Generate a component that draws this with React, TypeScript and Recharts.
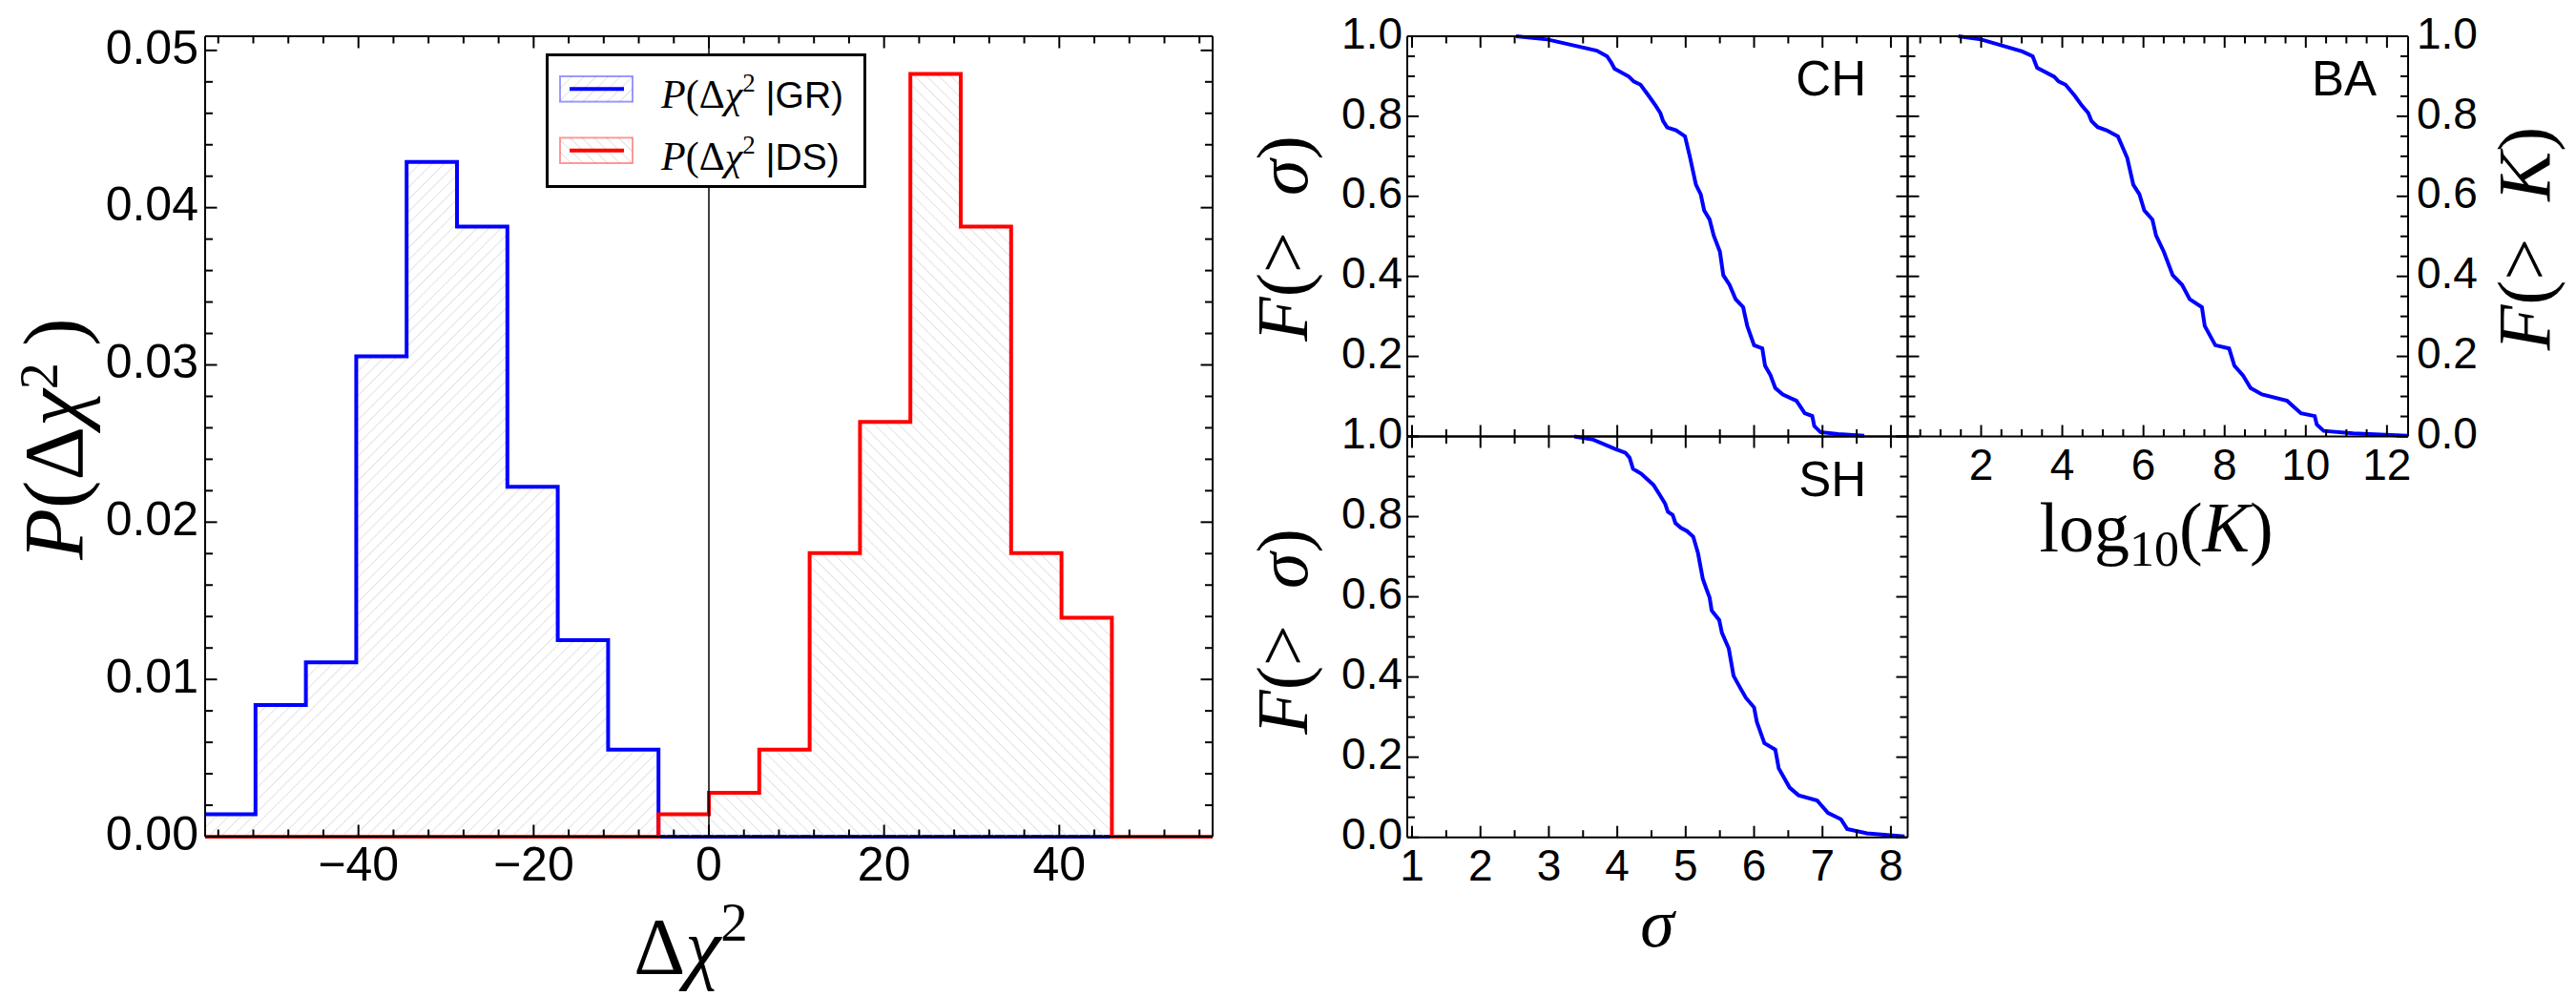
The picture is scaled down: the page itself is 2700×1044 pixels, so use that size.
import React from 'react';
import { ComposedChart, LineChart, Area, Line, XAxis, YAxis, ReferenceLine, Legend } from 'recharts';

const W = 2700;
const H = 1044;
const SANS = '"Liberation Sans", Arial, sans-serif';
const SERIF = '"Liberation Serif", "Times New Roman", serif';
const BLUE = '#0000ff';
const RED = '#ff0000';
const AX = { stroke: '#000', strokeWidth: 2 };

// ---------- Left panel: histograms of delta chi^2 ----------
const binEdges = [-57.5, -51.75, -46, -40.25, -34.5, -28.75, -23, -17.25, -11.5, -5.75, 0, 5.75, 11.5, 17.25, 23, 28.75, 34.5, 40.25, 46, 51.75, 57.5];
const grDensity = [0.00142, 0.00837, 0.01108, 0.03054, 0.0429, 0.0388, 0.02225, 0.0125, 0.00554, 0, 0, 0, 0, 0, 0, 0, 0, 0, 0, 0];
const dsDensity = [0, 0, 0, 0, 0, 0, 0, 0, 0, 0.00142, 0.00279, 0.00554, 0.01804, 0.02638, 0.0485, 0.0388, 0.01804, 0.01392, 0, 0];
const histXTicks = [-56, -52, -48, -44, -40, -36, -32, -28, -24, -20, -16, -12, -8, -4, 0, 4, 8, 12, 16, 20, 24, 28, 32, 36, 40, 44, 48, 52, 56];
const histXMajor = [-40, -20, 0, 20, 40];
const histXLabels = ['\u221240', '\u221220', '0', '20', '40'];
const histYTicks = [0, 0.002, 0.004, 0.006, 0.008, 0.01, 0.012, 0.014, 0.016, 0.018, 0.02, 0.022, 0.024, 0.026, 0.028, 0.03, 0.032, 0.034, 0.036, 0.038, 0.04, 0.042, 0.044, 0.046, 0.048, 0.05];
const histYMajor = [0, 0.01, 0.02, 0.03, 0.04, 0.05];
const histYLabels = ['0.00', '0.01', '0.02', '0.03', '0.04', '0.05'];
const legendSeries = [
  { name: 'GR', color: BLUE, hatch: 'hatchGR' },
  { name: 'DS', color: RED, hatch: 'hatchDS' },
];

// ---------- Right panels: complementary cumulative fractions ----------
const chSigma = [2.52, 2.98, 3.7, 3.85, 3.91, 3.96, 4.17, 4.24, 4.34, 4.46, 4.56, 4.63, 4.67, 4.73, 4.86, 4.99, 5.06, 5.15, 5.22, 5.27, 5.35, 5.41, 5.5, 5.55, 5.64, 5.73, 5.84, 5.9, 6.0, 6.12, 6.16, 6.24, 6.31, 6.42, 6.62, 6.74, 6.85, 6.88, 6.97, 7.23, 7.61];
const chF = [1.0, 0.992, 0.964, 0.95, 0.935, 0.919, 0.899, 0.887, 0.879, 0.851, 0.827, 0.808, 0.788, 0.772, 0.765, 0.75, 0.7, 0.629, 0.605, 0.565, 0.542, 0.502, 0.462, 0.403, 0.379, 0.343, 0.323, 0.276, 0.228, 0.22, 0.177, 0.153, 0.121, 0.105, 0.089, 0.058, 0.051, 0.026, 0.011, 0.006, 0.002];
const shSigma = [3.37, 3.65, 3.97, 4.12, 4.18, 4.23, 4.35, 4.44, 4.53, 4.63, 4.7, 4.74, 4.81, 4.85, 4.93, 5.02, 5.11, 5.18, 5.25, 5.3, 5.35, 5.38, 5.49, 5.53, 5.63, 5.7, 5.79, 5.88, 6.0, 6.04, 6.15, 6.31, 6.36, 6.52, 6.65, 6.92, 7.08, 7.27, 7.36, 7.65, 8.2];
const shF = [1.0, 0.992, 0.969, 0.959, 0.947, 0.919, 0.907, 0.893, 0.879, 0.852, 0.832, 0.812, 0.804, 0.784, 0.772, 0.764, 0.75, 0.709, 0.645, 0.621, 0.598, 0.566, 0.542, 0.51, 0.471, 0.403, 0.375, 0.348, 0.324, 0.288, 0.235, 0.219, 0.172, 0.124, 0.105, 0.092, 0.061, 0.045, 0.021, 0.01, 0.002];
const baLogK = [1.44, 2.0, 3.01, 3.27, 3.38, 3.8, 3.91, 4.08, 4.31, 4.48, 4.64, 4.72, 4.87, 5.09, 5.37, 5.6, 5.75, 5.9, 6.02, 6.22, 6.31, 6.5, 6.72, 6.95, 7.14, 7.44, 7.51, 7.77, 8.11, 8.24, 8.45, 8.64, 8.92, 9.54, 9.88, 10.22, 10.27, 10.44, 11.17, 12.5];
const baF = [1.0, 0.992, 0.962, 0.95, 0.921, 0.899, 0.887, 0.879, 0.851, 0.827, 0.808, 0.788, 0.773, 0.765, 0.75, 0.696, 0.629, 0.605, 0.565, 0.542, 0.502, 0.462, 0.403, 0.379, 0.343, 0.323, 0.276, 0.228, 0.22, 0.177, 0.153, 0.121, 0.105, 0.089, 0.058, 0.051, 0.03, 0.014, 0.008, 0.002];

const sigmaTicks = [1, 1.5, 2, 2.5, 3, 3.5, 4, 4.5, 5, 5.5, 6, 6.5, 7, 7.5, 8];
const sigmaMajor = [1, 2, 3, 4, 5, 6, 7, 8];
const sigmaLabels = ['1', '2', '3', '4', '5', '6', '7', '8'];
const kTicks = [0.5, 1, 1.5, 2, 2.5, 3, 3.5, 4, 4.5, 5, 5.5, 6, 6.5, 7, 7.5, 8, 8.5, 9, 9.5, 10, 10.5, 11, 11.5, 12];
const kMajor = [2, 4, 6, 8, 10, 12];
const kLabels = ['2', '4', '6', '8', '10', '12'];
const fTicks = [0, 0.05, 0.1, 0.15, 0.2, 0.25, 0.3, 0.35, 0.4, 0.45, 0.5, 0.55, 0.6, 0.65, 0.7, 0.75, 0.8, 0.85, 0.9, 0.95, 1.0];
const fMajor = [0, 0.2, 0.4, 0.6, 0.8, 1.0];
const fLabels = ['0.0', '0.2', '0.4', '0.6', '0.8', '1.0'];
const chFLabels = ['', '0.2', '0.4', '0.6', '0.8', '1.0'];

const histRows = binEdges.map((x, i) => ({
  x,
  gr: grDensity[Math.min(i, grDensity.length - 1)],
  ds: dsDensity[Math.min(i, dsDensity.length - 1)],
}));
const chRows = chSigma.map((x, i) => ({ x, F: chF[i] }));
const shRows = shSigma.map((x, i) => ({ x, F: shF[i] }));
const baRows = baLogK.map((x, i) => ({ x, F: baF[i] }));

type Side = 'top' | 'bottom' | 'left' | 'right';
interface TickOpts {
  side: Side;
  majors: number[];
  labels?: string[];
  majorLen: number;
  minorLen: number;
  fontSize?: number;
  offset?: number;
}

const near = (a: number, b: number) => Math.abs(a - b) < 1e-7;

function tickRenderer(o: TickOpts) {
  return (props: any) => {
    const x = Number(props.x);
    const y = Number(props.y);
    const v = Number(props.payload?.value);
    const mi = o.majors.findIndex((m) => near(m, v));
    const len = mi >= 0 ? o.majorLen : o.minorLen;
    const lab = mi >= 0 && o.labels ? o.labels[mi] : '';
    const fs = o.fontSize ?? 46;
    let x2 = x;
    let y2 = y;
    let tx = x;
    let ty = y;
    let anchor: 'start' | 'middle' | 'end' = 'middle';
    if (o.side === 'bottom') {
      y2 = y - len;
      ty = y + (o.offset ?? 45);
    } else if (o.side === 'top') {
      y2 = y + len;
    } else if (o.side === 'left') {
      x2 = x + len;
      tx = x - (o.offset ?? 6);
      ty = y + fs * 0.275;
      anchor = 'end';
    } else {
      x2 = x - len;
      tx = x + (o.offset ?? 9);
      ty = y + fs * 0.275;
      anchor = 'start';
    }
    return (
      <g>
        <line x1={x} y1={y} x2={x2} y2={y2} stroke="#000" strokeWidth={2} />
        {lab ? (
          <text x={tx} y={ty} textAnchor={anchor} fontFamily={SANS} fontSize={fs} fill="#000">
            {lab}
          </text>
        ) : null}
      </g>
    );
  };
}

function HatchDefs() {
  return (
    <svg width={0} height={0} style={{ position: 'absolute', left: 0, top: 0 }}>
      <defs>
        <pattern id="hatchGR" patternUnits="userSpaceOnUse" width={9} height={9} patternTransform="rotate(45)">
          <line x1={0} y1={0} x2={0} y2={9} stroke="#d0d0d0" strokeWidth={1.2} />
        </pattern>
        <pattern id="hatchDS" patternUnits="userSpaceOnUse" width={9} height={9} patternTransform="rotate(-45)">
          <line x1={0} y1={0} x2={0} y2={9} stroke="#d0d0d0" strokeWidth={1.2} />
        </pattern>
      </defs>
    </svg>
  );
}

function renderLegend() {
  return (
    <svg width={336} height={141} style={{ display: 'block' }}>
      <rect x={1.5} y={1.5} width={333} height={138} fill="#fff" stroke="#000" strokeWidth={3} />
      {legendSeries.map((s, i) => {
        const cy = 37.3 + i * 64.4;
        return (
          <g key={s.name}>
            <rect x={15} y={cy - 13.3} width={76} height={26.6} fill={`url(#${s.hatch})`} stroke={s.color} strokeOpacity={0.4} strokeWidth={2} />
            <line x1={25} x2={82} y1={cy} y2={cy} stroke={s.color} strokeWidth={4} />
            <text x={121} y={cy + 20} fontFamily={SERIF} fontSize={42} fill="#000">
              <tspan fontStyle="italic">P</tspan>
              <tspan>(Δ</tspan>
              <tspan fontStyle="italic">χ</tspan>
              <tspan fontSize={27} dy={-17}>2</tspan>
              <tspan dy={17} fontFamily={SANS} fontSize={39}>{' |' + s.name + ')'}</tspan>
            </text>
          </g>
        );
      })}
    </svg>
  );
}

function HistChart() {
  const common = { type: 'number' as const, interval: 0, mirror: true, tickSize: 0, tickMargin: 0, tickLine: false, axisLine: AX };
  return (
    <ComposedChart width={W} height={H} data={histRows} margin={{ top: 38, left: 215, right: 1429, bottom: 167 }}>
      <XAxis xAxisId="b" dataKey="x" orientation="bottom" domain={[-57.5, 57.5]} ticks={histXTicks} {...common}
        tick={tickRenderer({ side: 'bottom', majors: histXMajor, labels: histXLabels, majorLen: 12.5, minorLen: 7.5, fontSize: 50, offset: 46 })} />
      <XAxis xAxisId="t" dataKey="x" orientation="top" domain={[-57.5, 57.5]} allowDataOverflow ticks={histXTicks} {...common}
        tick={tickRenderer({ side: 'top', majors: histXMajor, majorLen: 12.5, minorLen: 7.5 })} />
      <YAxis yAxisId="l" orientation="left" domain={[0, 0.0509]} ticks={histYTicks} {...common}
        tick={tickRenderer({ side: 'left', majors: histYMajor, labels: histYLabels, majorLen: 12.5, minorLen: 8, fontSize: 50, offset: 7 })} />
      <YAxis yAxisId="r" orientation="right" domain={[0, 0.0509]} allowDataOverflow ticks={histYTicks} {...common}
        tick={tickRenderer({ side: 'right', majors: histYMajor, majorLen: 12.5, minorLen: 8 })} />
      <Area xAxisId="b" yAxisId="l" type="stepAfter" dataKey="gr" name="GR" stroke={BLUE} strokeWidth={4}
        fill="url(#hatchGR)" fillOpacity={1} dot={false} activeDot={false} isAnimationActive={false} />
      <Area xAxisId="b" yAxisId="l" type="stepAfter" dataKey="ds" name="DS" stroke={RED} strokeWidth={4}
        fill="url(#hatchDS)" fillOpacity={1} dot={false} activeDot={false} isAnimationActive={false} />
      <ReferenceLine xAxisId="b" yAxisId="l" x={0} stroke="#000" strokeWidth={1.5} />
      <Legend content={renderLegend} layout="vertical" align="center" verticalAlign="middle"
        wrapperStyle={{ left: 572, top: 56, width: 336, height: 141 }} />
    </ComposedChart>
  );
}

interface PanelProps {
  rows: { x: number; F: number }[];
  xDomain: [number, number];
  xTicks: number[];
  xMajor: number[];
  xLabels?: string[];
  leftLabels?: string[];
  rightLabels?: string[];
  margin: { top: number; left: number; right: number; bottom: number };
}

function CdfPanel(p: PanelProps) {
  const common = { type: 'number' as const, interval: 0, mirror: true, tickSize: 0, tickMargin: 0, tickLine: false, axisLine: AX };
  return (
    <LineChart width={W} height={H} data={p.rows} margin={p.margin}>
      <XAxis xAxisId="b" dataKey="x" orientation="bottom" domain={p.xDomain} ticks={p.xTicks} {...common}
        tick={tickRenderer({ side: 'bottom', majors: p.xMajor, labels: p.xLabels, majorLen: 12, minorLen: 7.5, fontSize: 46, offset: 45.5 })} />
      <XAxis xAxisId="t" dataKey="x" orientation="top" domain={p.xDomain} allowDataOverflow ticks={p.xTicks} {...common}
        tick={tickRenderer({ side: 'top', majors: p.xMajor, majorLen: 12, minorLen: 7.5 })} />
      <YAxis yAxisId="l" orientation="left" domain={[0, 1]} ticks={fTicks} {...common}
        tick={tickRenderer({ side: 'left', majors: fMajor, labels: p.leftLabels, majorLen: 12, minorLen: 8, fontSize: 46, offset: 5 })} />
      <YAxis yAxisId="r" orientation="right" domain={[0, 1]} allowDataOverflow ticks={fTicks} {...common}
        tick={tickRenderer({ side: 'right', majors: fMajor, labels: p.rightLabels, majorLen: 12, minorLen: 8, fontSize: 46, offset: 9 })} />
      <Line xAxisId="b" yAxisId="l" type="linear" dataKey="F" stroke={BLUE} strokeWidth={4}
        dot={false} activeDot={false} isAnimationActive={false} />
    </LineChart>
  );
}

function Overlay() {
  return (
    <svg width={W} height={H} style={{ position: 'absolute', left: 0, top: 0, pointerEvents: 'none' }}>
      {/* left panel titles */}
      <text x={86} y={460} transform="rotate(-90 86 460)" textAnchor="middle" fontFamily={SERIF} fontSize={88} fill="#000">
        <tspan fontStyle="italic">P</tspan>
        <tspan>(Δ</tspan>
        <tspan fontStyle="italic">χ</tspan>
        <tspan fontSize={56} dy={-26}>2</tspan>
        <tspan dy={26}>{'\u2009)'}</tspan>
      </text>
      <text x={724} y={1021} textAnchor="middle" fontFamily={SERIF} fontSize={84} fill="#000">
        <tspan>Δ</tspan>
        <tspan fontStyle="italic">χ</tspan>
        <tspan fontSize={57} dy={-35}>2</tspan>
      </text>
      {/* right panel titles */}
      <text x={1370} y={250} transform="rotate(-90 1370 250)" textAnchor="middle" fontFamily={SERIF} fontSize={76} fill="#000">
        <tspan fontStyle="italic">F</tspan>
        <tspan>{'(>\u2002'}</tspan>
        <tspan fontStyle="italic">σ</tspan>
        <tspan>)</tspan>
      </text>
      <text x={1370} y={662} transform="rotate(-90 1370 662)" textAnchor="middle" fontFamily={SERIF} fontSize={76} fill="#000">
        <tspan fontStyle="italic">F</tspan>
        <tspan>{'(>\u2002'}</tspan>
        <tspan fontStyle="italic">σ</tspan>
        <tspan>)</tspan>
      </text>
      <text x={2672} y={250} transform="rotate(-90 2672 250)" textAnchor="middle" fontFamily={SERIF} fontSize={78} fill="#000">
        <tspan fontStyle="italic">F</tspan>
        <tspan>{'(>\u2002'}</tspan>
        <tspan fontStyle="italic">K</tspan>
        <tspan>)</tspan>
      </text>
      <text x={1737} y={992} textAnchor="middle" fontFamily={SERIF} fontSize={72} fontStyle="italic" fill="#000">σ</text>
      <text x={2260} y={578} textAnchor="middle" fontFamily={SERIF} fontSize={74} fill="#000">
        <tspan>log</tspan>
        <tspan fontSize={52} dy={15}>10</tspan>
        <tspan dy={-15}>(</tspan>
        <tspan fontStyle="italic">K</tspan>
        <tspan>)</tspan>
      </text>
      <text x={1956} y={100} textAnchor="end" fontFamily={SANS} fontSize={51} fill="#000">CH</text>
      <text x={2491} y={100} textAnchor="end" fontFamily={SANS} fontSize={51} fill="#000">BA</text>
      <text x={1956} y={520} textAnchor="end" fontFamily={SANS} fontSize={51} fill="#000">SH</text>
    </svg>
  );
}

export default function App() {
  return (
    <div style={{ position: 'absolute', left: 0, top: 0, width: W, height: H, background: '#fff', overflow: 'hidden' }}>
      <HatchDefs />
      <div style={{ position: 'absolute', left: 0, top: 0 }}>
        <HistChart />
      </div>
      <div style={{ position: 'absolute', left: 0, top: 0 }}>
        <CdfPanel rows={chRows} xDomain={[0.93, 8.245]} xTicks={sigmaTicks} xMajor={sigmaMajor}
          leftLabels={chFLabels} margin={{ top: 38, left: 1475, right: 700.5, bottom: 586.5 }} />
      </div>
      <div style={{ position: 'absolute', left: 0, top: 0 }}>
        <CdfPanel rows={shRows} xDomain={[0.93, 8.245]} xTicks={sigmaTicks} xMajor={sigmaMajor} xLabels={sigmaLabels}
          leftLabels={fLabels} margin={{ top: 457.5, left: 1475, right: 700.5, bottom: 166.3 }} />
      </div>
      <div style={{ position: 'absolute', left: 0, top: 0 }}>
        <CdfPanel rows={baRows} xDomain={[0.19, 12.52]} xTicks={kTicks} xMajor={kMajor} xLabels={kLabels}
          rightLabels={fLabels} margin={{ top: 38, left: 1999.5, right: 176, bottom: 586.5 }} />
      </div>
      <Overlay />
    </div>
  );
}
